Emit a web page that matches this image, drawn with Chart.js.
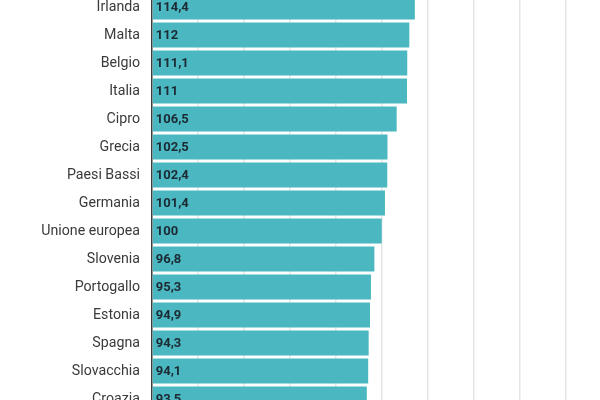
<!DOCTYPE html>
<html>
<head>
<meta charset="utf-8">
<script src="https://cdn.jsdelivr.net/npm/chart.js@4"></script>
<style>
  html, body { margin: 0; padding: 0; background: #fff; }
  #wrap { position: relative; width: 600px; height: 400px; overflow: hidden; }
  #box { position: absolute; left: 0; top: -7px; width: 600px; height: 420px; }
</style>
</head>
<body>
<div id="wrap"><div id="box"><canvas id="c"></canvas></div></div>
<script>
const categories = ["Irlanda","Malta","Belgio","Italia","Cipro","Grecia","Paesi Bassi","Germania","Unione europea","Slovenia","Portogallo","Estonia","Spagna","Slovacchia","Croazia"];
const values = [114.4, 112, 111.1, 111, 106.5, 102.5, 102.4, 101.4, 100, 96.8, 95.3, 94.9, 94.3, 94.1, 93.5];
const valueLabels = ["114,4","112","111,1","111","106,5","102,5","102,4","101,4","100","96,8","95,3","94,9","94,3","94,1","93,5"];

const labelPlugin = {
  id: 'valueLabels',
  afterDatasetsDraw(chart) {
    const ctx = chart.ctx;
    const meta = chart.getDatasetMeta(0);
    ctx.save();
    ctx.font = 'bold 13px Roboto';
    ctx.fillStyle = '#1b2a33';
    ctx.textAlign = 'left';
    ctx.textBaseline = 'middle';
    meta.data.forEach((bar, i) => {
      ctx.fillText(valueLabels[i], bar.base + 3, bar.y + 1);
    });
    ctx.restore();
  }
};

new Chart(document.getElementById('c'), {
  type: 'bar',
  data: {
    labels: categories,
    datasets: [{
      data: values,
      backgroundColor: '#4bb7c0',
      borderWidth: 0,
      barPercentage: 0.89,
      categoryPercentage: 1.0
    }]
  },
  options: {
    indexAxis: 'y',
    responsive: true,
    maintainAspectRatio: false,
    animation: false,
    layout: { padding: 0 },
    plugins: { legend: { display: false }, tooltip: { enabled: false } },
    scales: {
      x: {
        min: 0,
        max: 195,
        afterBuildTicks(scale) { scale.ticks = scale.ticks.filter(t => t.value % 20 === 0); },
        afterFit(scale) { scale.height = 0; scale.paddingLeft = 0; scale.paddingRight = 0; },
        ticks: { display: false, stepSize: 20, padding: 0 },
        grid: { color: '#e6e6e6', lineWidth: 1.5, drawTicks: false },
        border: { display: false }
      },
      y: {
        afterFit(scale) { scale.width = 152; scale.paddingTop = 0; scale.paddingBottom = 0; },
        ticks: { color: '#3a3a3a', font: { family: 'Roboto', size: 14.2 }, padding: 12 },
        grid: { display: false, drawTicks: false },
        border: { display: true, color: '#3c3c3c', width: 1.5 }
      }
    }
  },
  plugins: [labelPlugin]
});
</script>
</body>
</html>
